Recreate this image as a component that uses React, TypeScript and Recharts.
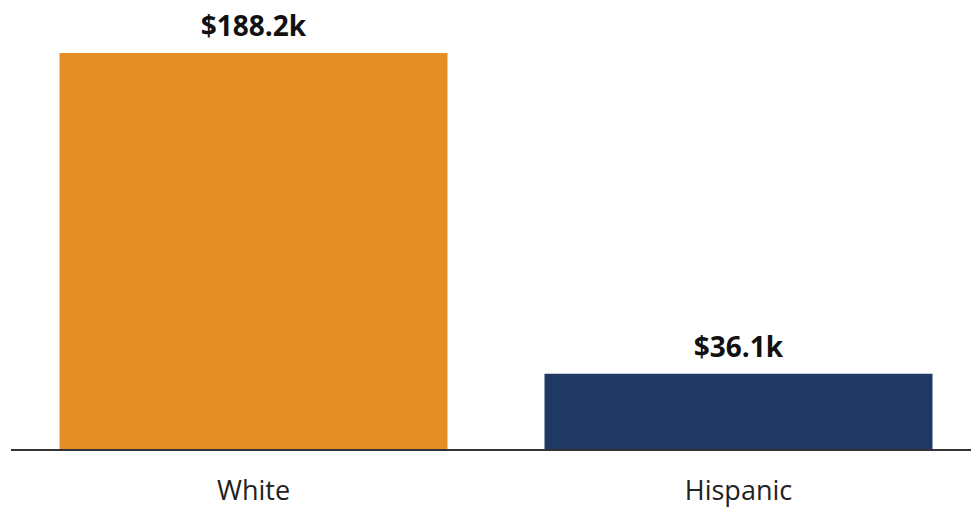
import React from "react";
import { BarChart, Bar, XAxis, YAxis, Cell, LabelList } from "recharts";

const categories = ["White", "Hispanic"];
const values = [188.2, 36.1];
const valueLabels = ["$188.2k", "$36.1k"];
const colors = ["#E48F26", "#1F3864"];

const data = categories.map((c, i) => ({ name: c, value: values[i], label: valueLabels[i] }));

export default function App() {
  return (
    <div style={{ position: "absolute", left: 0, top: 0, width: 971, height: 508, overflow: "hidden", background: "#fff" }}>
      <BarChart
        width={981}
        height={508}
        data={data}
        margin={{ top: 28, right: 0, bottom: 0, left: 11 }}
        barCategoryGap="10%"
      >
        <YAxis hide domain={[0, 200]} />
        <XAxis
          dataKey="name"
          height={58}
          tickLine={false}
          axisLine={{ stroke: "#333", strokeWidth: 2 }}
          tick={{ fill: "#222", fontSize: 27, fontFamily: "Open Sans" }}
          tickMargin={25}
        />
        <Bar dataKey="value" isAnimationActive={false}>
          {data.map((d, i) => (
            <Cell key={d.name} fill={colors[i]} />
          ))}
          <LabelList
            dataKey="label"
            position="top"
            offset={17}
            style={{ fill: "#111", fontSize: 28, fontWeight: 700, fontFamily: "Open Sans" }}
          />
        </Bar>
      </BarChart>
    </div>
  );
}
